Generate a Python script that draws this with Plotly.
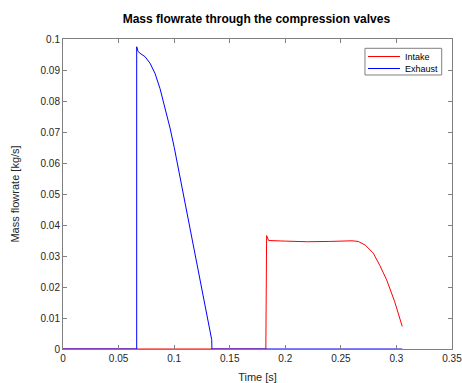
import plotly.graph_objects as go

# Data
intake_t = [0, 0.1825, 0.1832, 0.1850, 0.200, 0.220, 0.240, 0.260, 0.2657, 0.2720, 0.2792, 0.2850, 0.2912, 0.2985, 0.3052]
intake_v = [0, 0, 0.0366, 0.0350, 0.0348, 0.0346, 0.0347, 0.0349, 0.0347, 0.0335, 0.0309, 0.0270, 0.0223, 0.0152, 0.0073]

exhaust_t = [0, 0.0663, 0.0663, 0.0675, 0.0693, 0.0738, 0.0783, 0.0828, 0.0873, 0.0918, 0.0963, 0.1001, 0.1113, 0.1233, 0.1338, 0.1340, 0.3052]
exhaust_v = [0, 0, 0.0975, 0.0960, 0.0954, 0.0943, 0.0922, 0.0889, 0.0840, 0.0780, 0.0713, 0.0650, 0.0445, 0.0228, 0.0030, 0, 0]

series_names = ["Intake", "Exhaust"]
series_colors = ["#FF0000", "#0000FF"]

x_ticks = [0, 0.05, 0.1, 0.15, 0.2, 0.25, 0.3, 0.35]
x_labels = ["0", "0.05", "0.1", "0.15", "0.2", "0.25", "0.3", "0.35"]
y_ticks = [0, 0.01, 0.02, 0.03, 0.04, 0.05, 0.06, 0.07, 0.08, 0.09, 0.1]
y_labels = ["0", "0.01", "0.02", "0.03", "0.04", "0.05", "0.06", "0.07", "0.08", "0.09", "0.1"]

FONT = "Liberation Sans, Arial, sans-serif"
AX = "#262626"

fig = go.Figure()
fig.add_trace(go.Scatter(x=intake_t, y=intake_v, mode="lines", name=series_names[0],
                         line=dict(color=series_colors[0], width=1), showlegend=False))
fig.add_trace(go.Scatter(x=exhaust_t, y=exhaust_v, mode="lines", name=series_names[1],
                         line=dict(color=series_colors[1], width=1), showlegend=False))

axis_common = dict(showgrid=False, zeroline=False, showline=True, mirror="ticks",
                   linecolor="#808080", linewidth=1, ticks="inside", ticklen=4,
                   tickcolor="#808080", tickfont=dict(family=FONT, size=10, color=AX),
                   automargin=False, ticklabeloverflow="allow")

# Manual MATLAB-style legend box (paper coordinates of plot area)
shapes = [dict(type="rect", xref="paper", yref="paper", x0=0.7763, x1=0.9735, y0=0.8839, y1=0.9700,
               line=dict(color="#808080", width=1), fillcolor="white", layer="above")]
annotations = []
row_y = [0.9435, 0.9048]
for name, color, yy in zip(series_names, series_colors, row_y):
    shapes.append(dict(type="line", xref="paper", yref="paper", x0=0.7840, x1=0.8663, y0=yy, y1=yy,
                       line=dict(color=color, width=1.2), layer="above"))
    annotations.append(dict(text=name, xref="paper", yref="paper", x=0.8748, y=yy,
                            xanchor="left", yanchor="middle", showarrow=False,
                            font=dict(family=FONT, size=9, color="black")))

fig.update_layout(
    width=462, height=383,
    margin=dict(l=63, r=10, t=39, b=34, autoexpand=False),
    paper_bgcolor="white", plot_bgcolor="white",
    title=dict(text="<b>Mass flowrate through the compression valves</b>",
               x=0.555, xanchor="center", y=0.95, yanchor="middle",
               font=dict(family=FONT, size=12, color="black")),
    xaxis=dict(range=[0, 0.35], tickvals=x_ticks, ticktext=x_labels,
               title=dict(text="Time [s]", font=dict(family=FONT, size=11, color=AX), standoff=13),
               **axis_common),
    yaxis=dict(range=[0, 0.1], tickvals=y_ticks, ticktext=y_labels,
               title=dict(text="Mass flowrate [kg/s]", font=dict(family=FONT, size=11, color=AX), standoff=18),
               **axis_common),
    shapes=shapes,
    annotations=annotations,
    showlegend=False,
)

fig.write_html("out.html")
